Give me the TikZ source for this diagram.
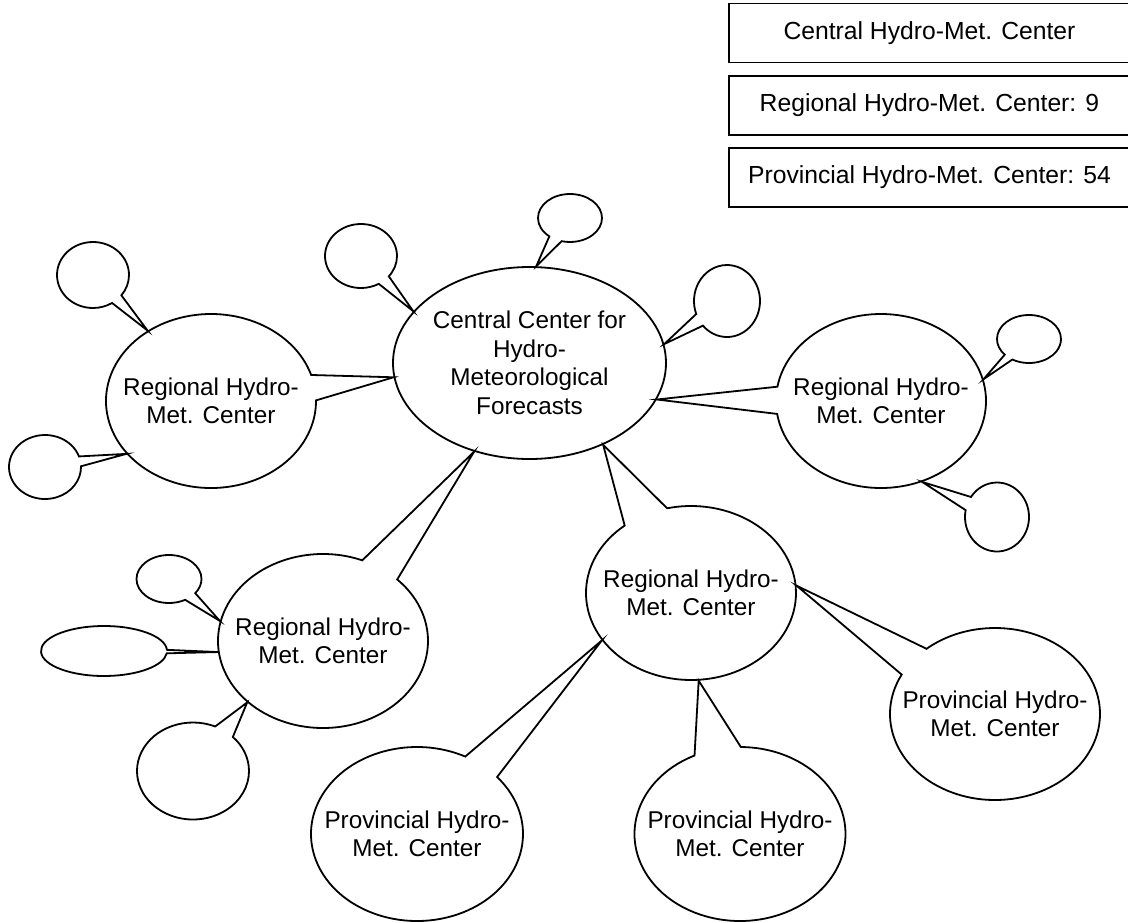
\documentclass[tikz,border=0pt]{standalone}
\usepackage{fontspec}
\setmainfont{Liberation Sans}
\usetikzlibrary{shapes.geometric,shapes.callouts}

\begin{document}
\begin{tikzpicture}[x=1pt,y=-1pt,line width=1.8pt,
	bubble/.style={ellipse callout,draw,inner sep=0pt},
	centre/.style={bubble,minimum width=210pt,minimum height=174pt},
	lbl/.style={align=center,inner sep=0pt,font=\fontsize{24.3}{28.5}\selectfont},
	keybox/.style={draw,inner sep=0pt,minimum width=406pt,minimum height=59pt,font=\fontsize{24.7}{30}\selectfont}]
	\useasboundingbox (0,0) rectangle (1128,922);
	% key
	\node[keybox] (key-c) at (932,33) {\hspace*{-5pt}Central Hydro-Met. Center};
	\node[keybox] (key-r) at (932,105.5) {\hspace*{-5pt}Regional Hydro-Met. Center: 9};
	\node[keybox] (key-p) at (932,177.5) {\hspace*{-5pt}Provincial Hydro-Met. Center: 54};
	% central
	\node[ellipse,draw,inner sep=0pt,minimum width=273pt,minimum height=192pt] (central) at (529.5,363) {};
	\node[lbl] (central-t) at (central) {Central Center for\\Hydro-\\Meteorological\\Forecasts};
	% regional
	\node[centre,callout pointer arc=17,callout absolute pointer={(central.186)}] (reg-w) at (211,401) {};
	\node[lbl] (reg-w-t) at (reg-w) {Regional Hydro-\\Met. Center};
	\node[centre,callout pointer arc=18,callout absolute pointer={(central.344.7)}] (reg-e) at (881,401) {};
	\node[lbl] (reg-e-t) at (reg-e) {Regional Hydro-\\Met. Center};
	\node[centre,callout pointer arc=23,callout absolute pointer={(central.238.6)}] (reg-sw) at (323,641) {};
	\node[lbl] (reg-sw-t) at (reg-sw) {Regional Hydro-\\Met. Center};
	\node[centre,callout pointer arc=26,callout absolute pointer={(central.312)}] (reg-s) at (691,593) {};
	\node[lbl] (reg-s-t) at (reg-s) {Regional Hydro-\\Met. Center};
	% provincial
	\node[centre,minimum width=212pt,callout pointer arc=22,callout absolute pointer={(reg-s.208.8)}] (prov-1) at (417,834) {};
	\node[lbl] (prov-1-t) at (prov-1) {Provincial Hydro-\\Met. Center};
	\node[centre,minimum width=211pt,callout pointer arc=26,callout absolute pointer={(reg-s.275.6)}] (prov-2) at (740,834) {};
	\node[lbl] (prov-2-t) at (prov-2) {Provincial Hydro-\\Met. Center};
	\node[centre,minimum height=172pt,callout pointer arc=22,callout absolute pointer={(reg-s.4.2)}] (prov-3) at (995,714) {};
	\node[lbl] (prov-3-t) at (prov-3) {Provincial Hydro-\\Met. Center};
	% empty bubbles
	\node[bubble,minimum width=64pt,minimum height=48pt,callout pointer arc=25,callout absolute pointer={(central.86)}] (c-1) at (570,218) {};
	\node[bubble,minimum width=66pt,minimum height=72pt,callout pointer arc=22,callout absolute pointer={(central.8.6)}] (c-2) at (727,301) {};
	\node[bubble,minimum width=72pt,minimum height=64pt,callout pointer arc=21,callout absolute pointer={(central.156.4)}] (c-3) at (361,256) {};
	\node[bubble,minimum width=72pt,minimum height=66pt,callout pointer arc=20,callout absolute pointer={(reg-w.132.8)}] (w-1) at (93,275) {};
	\node[bubble,minimum width=72pt,minimum height=64pt,callout pointer arc=18,callout absolute pointer={(reg-w.212.9)}] (w-2) at (45,467) {};
	\node[bubble,minimum width=64pt,minimum height=48pt,callout pointer arc=18,callout absolute pointer={(reg-e.12.2)}] (e-1) at (1029,339) {};
	\node[bubble,minimum width=64pt,minimum height=69pt,callout pointer arc=24,callout absolute pointer={(reg-e.297.4)}] (e-2) at (997,517) {};
	\node[bubble,minimum width=65pt,minimum height=48pt,callout pointer arc=24,callout absolute pointer={(reg-sw.169.5)}] (sw-1) at (169,579) {};
	\node[bubble,minimum width=126pt,minimum height=50pt,callout pointer arc=8,callout absolute pointer={(reg-sw.186.5)}] (sw-2) at (104,651) {};
	\node[bubble,minimum width=112pt,minimum height=97pt,callout pointer arc=22,callout absolute pointer={(reg-sw.219.7)}] (sw-3) at (193,771) {};
\end{tikzpicture}
\end{document}
